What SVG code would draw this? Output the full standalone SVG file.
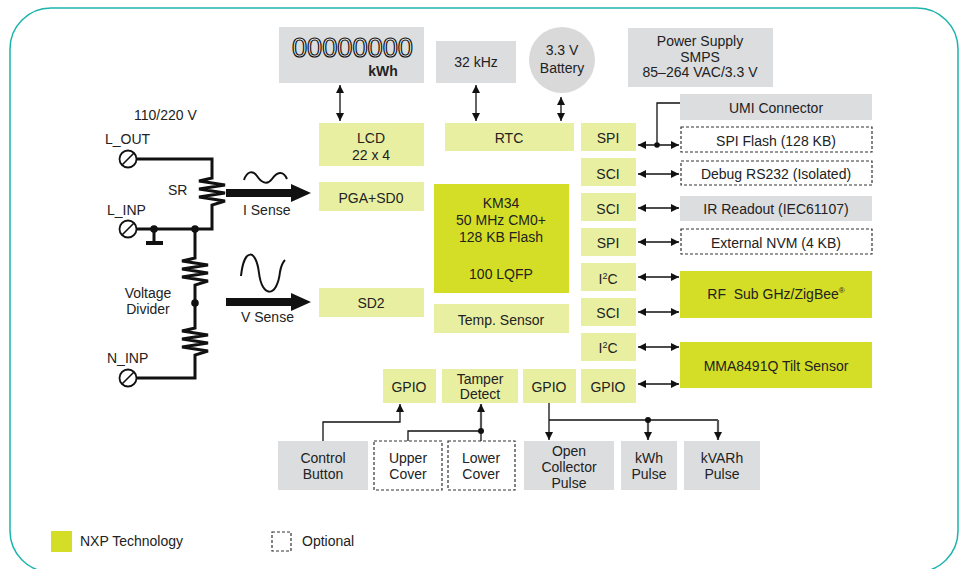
<svg xmlns="http://www.w3.org/2000/svg" width="961" height="569" viewBox="0 0 961 569">
<style>
text{font-family:"Liberation Sans",Arial,sans-serif;font-size:14px;fill:#222;}
.c{text-anchor:middle;}
.ly{fill:#e9efa0;}
.nxp{fill:#d5de26;}
.gr{fill:#dcdddf;}
.opt{fill:#fff;stroke:#333;stroke-width:1.2;stroke-dasharray:3,2;}
.w{fill:none;stroke:#111;stroke-width:3;stroke-linejoin:miter;}
.ln{fill:none;stroke:#111;stroke-width:1.3;}
.lk{fill:none;stroke:#555;stroke-width:2.2;}
.da{fill:none;stroke:#111;stroke-width:1.3;marker-start:url(#ah);marker-end:url(#ah);}
</style>
<defs>
<marker id="ah" markerUnits="userSpaceOnUse" markerWidth="10" markerHeight="10" refX="8" refY="4" orient="auto-start-reverse"><path d="M0,0 L8,4 L0,8 z" fill="#111"/></marker>
<marker id="ahg" markerUnits="userSpaceOnUse" markerWidth="10" markerHeight="10" refX="8" refY="4" orient="auto"><path d="M0,0 L8,4 L0,8 z" fill="#111"/></marker>
</defs>
<rect x="10" y="8" width="948" height="564" rx="41" fill="none" stroke="#1ab4ad" stroke-width="1.5"/>

<!-- left circuit -->
<g id="circuit">
<text x="134" y="120">110/220 V</text>
<text x="105" y="144">L_OUT</text>
<text x="107" y="215">L_INP</text>
<text x="107" y="363">N_INP</text>
<text x="168" y="195">SR</text>
<text class="c" x="148" y="298">Voltage</text>
<text class="c" x="148" y="314">Divider</text>
<path class="w" d="M137,159 L212,159 L212,178 L199,181 L225,185 L199,189 L225,193 L199,197 L225,201 L212,205 L212,229 L137,229"/>
<path class="w" d="M154,229 L154,242"/>
<rect x="146" y="241" width="17" height="4" fill="#111"/>
<path class="w" d="M195,229 L195,258 L182,261 L208,265 L182,269 L208,273 L182,277 L208,281 L195,285 L195,328 L182,331 L208,335 L182,339 L208,343 L182,347 L208,351 L195,355 L195,378 L137,378"/>
<circle cx="154" cy="229" r="3.8" fill="#111"/>
<circle cx="195" cy="229" r="3.8" fill="#111"/>
<circle cx="195" cy="303" r="3.8" fill="#111"/>
<g fill="#fff" stroke="#111" stroke-width="1.8">
<circle cx="128" cy="159" r="8.5"/>
<circle cx="128" cy="229" r="8.5"/>
<circle cx="128" cy="378" r="8.5"/>
</g>
<g stroke="#111" stroke-width="1.6">
<line x1="122" y1="165" x2="134" y2="153"/>
<line x1="122" y1="235" x2="134" y2="223"/>
<line x1="122" y1="384" x2="134" y2="372"/>
</g>
<path d="M244,180 C247,171 253,170 257,176 S267,186 272,179 S283,170 287,179" fill="none" stroke="#111" stroke-width="2"/>
<rect x="226" y="189" width="66" height="8" fill="#111"/>
<polygon points="291,184 311,193 291,202" fill="#111"/>
<text x="243" y="215">I Sense</text>
<path d="M241,276 C244,248 256,248 259,273 C262,298 277,298 280,272 C281,266 283,262 285,260" fill="none" stroke="#111" stroke-width="2"/>
<rect x="226" y="298" width="66" height="8" fill="#111"/>
<polygon points="291,293 311,302 291,311" fill="#111"/>
<text x="241" y="322">V Sense</text>
</g>

<!-- top row -->
<g id="display"><rect class="gr" x="279" y="27" width="145" height="56"/>
<text x="292" y="57" textLength="121" lengthAdjust="spacingAndGlyphs" style="font-size:27px;fill:#f4f4f4;stroke:#111;stroke-width:1.2">00000000</text>
<text class="c" x="383" y="76" style="font-weight:bold">kWh</text></g>
<g id="osc"><rect class="gr" x="436" y="41" width="80" height="42"/><text class="c" x="476" y="67">32 kHz</text></g>
<g id="battery"><circle cx="562" cy="60" r="33" fill="#d9d9d9"/><text class="c" x="562" y="55">3.3 V</text><text class="c" x="562" y="73">Battery</text></g>
<g id="psu"><rect class="gr" x="628" y="28" width="145" height="59"/><text class="c" x="700" y="46">Power Supply</text><text class="c" x="700" y="62">SMPS</text><text class="c" x="700" y="77">85–264 VAC/3.3 V</text></g>

<!-- internal blocks -->
<g id="lcd"><rect class="ly" x="319" y="123" width="105" height="43"/><text class="c" x="371" y="143">LCD</text><text class="c" x="371" y="160">22 x 4</text></g>
<g id="rtc"><rect class="ly" x="445" y="123" width="129" height="28"/><text class="c" x="509" y="143">RTC</text></g>
<g id="pga"><rect class="ly" x="319" y="182" width="105" height="29"/><text class="c" x="371" y="203">PGA+SD0</text></g>
<g id="sd2"><rect class="ly" x="319" y="288" width="105" height="29"/><text class="c" x="371" y="308">SD2</text></g>
<g id="km34"><rect class="nxp" x="434" y="184" width="135" height="109"/>
<text class="c" x="501" y="208">KM34</text><text class="c" x="501" y="225">50 MHz CM0+</text><text class="c" x="501" y="242">128 KB Flash</text><text class="c" x="501" y="279">100 LQFP</text></g>
<g id="temp"><rect class="ly" x="434" y="304" width="135" height="29"/><text class="c" x="501" y="325">Temp. Sensor</text></g>

<!-- right column interfaces -->
<g id="spi1"><rect class="ly" x="581" y="123" width="55" height="28"/><text class="c" x="608" y="143">SPI</text></g>
<g id="sci1"><rect class="ly" x="581" y="158" width="55" height="28"/><text class="c" x="608" y="179">SCI</text></g>
<g id="sci2"><rect class="ly" x="581" y="193" width="55" height="28"/><text class="c" x="608" y="214">SCI</text></g>
<g id="spi2"><rect class="ly" x="581" y="228" width="55" height="28"/><text class="c" x="608" y="248">SPI</text></g>
<g id="i2c1"><rect class="ly" x="581" y="263" width="55" height="28"/><text class="c" x="608" y="284">I<tspan style="font-size:9px" dy="-5">2</tspan><tspan dy="5">C</tspan></text></g>
<g id="sci3"><rect class="ly" x="581" y="298" width="55" height="28"/><text class="c" x="608" y="318">SCI</text></g>
<g id="i2c2"><rect class="ly" x="581" y="333" width="55" height="28"/><text class="c" x="608" y="353">I<tspan style="font-size:9px" dy="-5">2</tspan><tspan dy="5">C</tspan></text></g>
<g id="gpio4"><rect class="ly" x="581" y="369" width="55" height="34"/><text class="c" x="608" y="392">GPIO</text></g>

<!-- external right -->
<g id="umi"><rect class="gr" x="680" y="94" width="192" height="26"/><text class="c" x="776" y="113">UMI Connector</text></g>
<g id="spiflash"><rect class="opt" x="681" y="127" width="191" height="25"/><text class="c" x="776" y="146">SPI Flash (128 KB)</text></g>
<g id="debug"><rect class="opt" x="681" y="161" width="191" height="24"/><text class="c" x="776" y="179">Debug RS232 (Isolated)</text></g>
<g id="ir"><rect class="gr" x="680" y="196" width="192" height="25"/><text class="c" x="776" y="214">IR Readout (IEC61107)</text></g>
<g id="nvm"><rect class="opt" x="681" y="229" width="191" height="25"/><text class="c" x="776" y="248">External NVM (4 KB)</text></g>
<g id="rf"><rect class="nxp" x="680" y="271" width="192" height="47"/><text class="c" x="776" y="299">RF&#160; Sub GHz/ZigBee<tspan style="font-size:8px" dy="-6">®</tspan></text></g>
<g id="mma"><rect class="nxp" x="680" y="342" width="192" height="46"/><text class="c" x="776" y="371">MMA8491Q Tilt Sensor</text></g>

<!-- bottom row -->
<g id="gpio1"><rect class="ly" x="383" y="369" width="53" height="34"/><text class="c" x="409" y="392">GPIO</text></g>
<g id="tamper"><rect class="ly" x="442" y="369" width="76" height="34"/><text class="c" x="480" y="384">Tamper</text><text class="c" x="480" y="399">Detect</text></g>
<g id="gpio2"><rect class="ly" x="523" y="369" width="53" height="34"/><text class="c" x="549" y="392">GPIO</text></g>
<g id="control"><rect class="gr" x="278" y="441" width="90" height="49"/><text class="c" x="323" y="463">Control</text><text class="c" x="323" y="479">Button</text></g>
<g id="upper"><rect class="opt" x="374" y="441" width="68" height="49"/><text class="c" x="408" y="463">Upper</text><text class="c" x="408" y="479">Cover</text></g>
<g id="lower"><rect class="opt" x="448" y="441" width="67" height="49"/><text class="c" x="481" y="463">Lower</text><text class="c" x="481" y="479">Cover</text></g>
<g id="oc"><rect class="gr" x="524" y="441" width="90" height="49"/><text class="c" x="569" y="456">Open</text><text class="c" x="569" y="472">Collector</text><text class="c" x="569" y="488">Pulse</text></g>
<g id="kwh"><rect class="gr" x="621" y="441" width="56" height="49"/><text class="c" x="649" y="463">kWh</text><text class="c" x="649" y="479">Pulse</text></g>
<g id="kvarh"><rect class="gr" x="684" y="441" width="76" height="49"/><text class="c" x="722" y="463">kVARh</text><text class="c" x="722" y="479">Pulse</text></g>

<!-- connectors -->
<g id="connectors">
<line class="da" x1="340" y1="85" x2="340" y2="121"/>
<line class="da" x1="476" y1="85" x2="476" y2="121"/>
<line class="da" x1="561" y1="97" x2="561" y2="121"/>
<line class="da" x1="638" y1="145" x2="679" y2="145"/>
<polyline class="ln" points="657,145 657,103 680,103"/>
<circle cx="657" cy="145" r="2.8" fill="#111"/>
<line class="da" x1="638" y1="174" x2="679" y2="174"/>
<line class="da" x1="638" y1="208" x2="679" y2="208"/>
<line class="da" x1="638" y1="242" x2="679" y2="242"/>
<line class="da" x1="638" y1="277" x2="679" y2="277"/>
<line class="da" x1="638" y1="312" x2="679" y2="312"/>
<line class="da" x1="638" y1="347" x2="679" y2="347"/>
<line class="da" x1="638" y1="384" x2="679" y2="384"/>
<polyline class="ln" points="323,441 323,422 400,422 400,404" marker-end="url(#ahg)"/>
<polyline class="ln" points="408,441 408,431 481,431"/>
<line class="ln" x1="481" y1="441" x2="481" y2="431"/>
<line class="lk" x1="481" y1="431" x2="481" y2="404" marker-end="url(#ahg)"/>
<circle cx="481" cy="431" r="3" fill="#111"/>
<line class="ln" x1="549" y1="403" x2="549" y2="440" marker-end="url(#ahg)"/>
<line class="ln" x1="549" y1="420" x2="718" y2="420"/>
<line class="lk" x1="648" y1="420" x2="648" y2="440" marker-end="url(#ahg)"/>
<line class="lk" x1="718" y1="420" x2="718" y2="440" marker-end="url(#ahg)"/>
<circle cx="648" cy="420" r="3" fill="#111"/>
</g>

<!-- legend -->
<g id="legend">
<rect class="nxp" x="51" y="531" width="21" height="21"/>
<text x="80" y="546">NXP Technology</text>
<rect class="opt" x="272" y="532" width="19" height="19"/>
<text x="302" y="546">Optional</text>
</g>
</svg>
